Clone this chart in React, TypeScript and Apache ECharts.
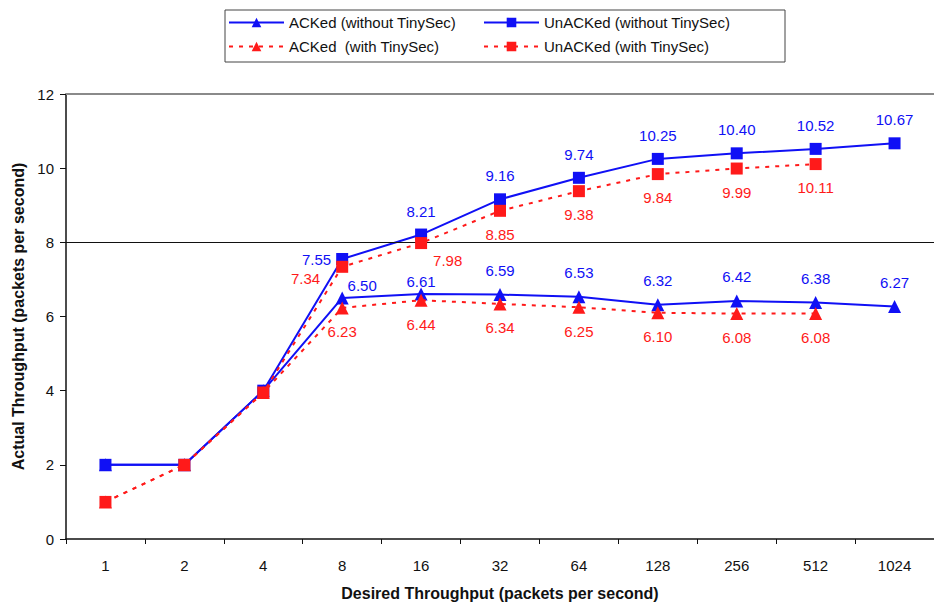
import React, { useEffect, useRef } from "react";
import * as echarts from "echarts";

const categories = ["1", "2", "4", "8", "16", "32", "64", "128", "256", "512", "1024"];
const ackedWithout = [2, 2, 4.0, 6.5, 6.61, 6.59, 6.53, 6.32, 6.42, 6.38, 6.27];
const unackedWithout = [2, 2, 4.0, 7.55, 8.21, 9.16, 9.74, 10.25, 10.4, 10.52, 10.67];
const ackedWith = [1, 2, 3.95, 6.23, 6.44, 6.34, 6.25, 6.1, 6.08, 6.08, null];
const unackedWith = [1, 2, 3.95, 7.34, 7.98, 8.85, 9.38, 9.84, 9.99, 10.11, null];
const yTicks = [0, 2, 4, 6, 8, 10, 12];

const seriesNames = [
  "ACKed (without TinySec)",
  "UnACKed (without TinySec)",
  "ACKed  (with TinySec)",
  "UnACKed (with TinySec)",
];

const BLUE = "#1010f5";
const RED = "#ff1a1a";
const FONT = "Liberation Sans, Arial, Helvetica, sans-serif";

// per-point label overrides: series index -> category index -> label props
const labelOverrides: Record<number, Record<number, any>> = {
  0: { 3: { position: "top", distance: 10, offset: [20, 12] }, 4: { position: "top", distance: 10, offset: [0, 12] } },
  1: { 3: { position: "left", distance: 5, offset: [0, 0] } },
  3: {
    3: { position: "left", distance: 16, offset: [0, 12] },
    4: { position: "right", distance: 6, offset: [0, 17] },
  },
};

function buildData(values: (number | null)[], si: number, above: boolean, color: string) {
  return values.map((v, i) => {
    if (v === null) return null;
    const show = i >= 3;
    const ov = (labelOverrides[si] && labelOverrides[si][i]) || {};
    return {
      value: v,
      label: {
        show,
        position: above ? "top" : "bottom",
        distance: 10,
        color,
        fontSize: 15,
        fontFamily: FONT,
        formatter: (p: any) => Number(p.value).toFixed(2),
        ...ov,
      },
    };
  });
}

export default function App() {
  const ref = useRef<HTMLDivElement>(null);
  useEffect(() => {
    document.body.style.margin = "0";
    if (!ref.current) return;
    const chart = echarts.init(ref.current, undefined, { renderer: "svg" });
    const mkSeries = (
      name: string,
      values: (number | null)[],
      si: number,
      color: string,
      symbol: string,
      symbolSize: number,
      dashed: boolean,
      above: boolean,
      extra: any = {}
    ) => ({
      name,
      type: "line",
      data: buildData(values, si, above, color),
      symbol,
      symbolSize,
      showSymbol: true,
      itemStyle: { color },
      lineStyle: { color, width: 2, type: dashed ? [4, 6] : "solid" },
      z: 2 + si,
      ...extra,
    });
    const legendBase = {
      itemWidth: 55,
      itemHeight: 12,
      itemGap: 0,
      textStyle: { fontSize: 15, fontFamily: FONT, color: "#111" },
      padding: 0,
    };
    chart.setOption({
      animation: false,
      backgroundColor: "#ffffff",
      textStyle: { fontFamily: FONT },
      grid: { left: 66, right: 0, top: 94, bottom: 63, containLabel: false },
      graphic: [
        {
          type: "rect",
          shape: { x: 225, y: 10, width: 560, height: 52 },
          style: { fill: "none", stroke: "#444", lineWidth: 1 },
        },
      ],
      legend: [
        { ...legendBase, data: [seriesNames[0]], left: 228, top: 15 },
        { ...legendBase, data: [seriesNames[1]], left: 483, top: 15 },
        { ...legendBase, data: [seriesNames[2]], left: 228, top: 39 },
        { ...legendBase, data: [seriesNames[3]], left: 483, top: 39 },
      ],
      xAxis: {
        type: "category",
        data: categories,
        boundaryGap: true,
        name: "Desired Throughput (packets per second)",
        nameLocation: "middle",
        nameGap: 46,
        nameTextStyle: { fontSize: 16, fontWeight: "bold", color: "#111", fontFamily: FONT },
        axisLine: { lineStyle: { color: "#111", width: 1.5 } },
        axisTick: { show: true, alignWithLabel: false, length: 5, lineStyle: { color: "#111" } },
        axisLabel: { fontSize: 15, color: "#111", margin: 19, fontFamily: FONT },
        splitLine: { show: false },
      },
      yAxis: {
        type: "value",
        min: yTicks[0],
        max: yTicks[yTicks.length - 1],
        interval: 2,
        name: "Actual Throughput (packets per second)",
        nameLocation: "middle",
        nameGap: 39,
        nameTextStyle: { fontSize: 16, fontWeight: "bold", color: "#111", fontFamily: FONT },
        axisLine: { show: true, lineStyle: { color: "#111", width: 1.5 } },
        axisTick: { show: true, length: 6, lineStyle: { color: "#111" } },
        axisLabel: { fontSize: 15, color: "#111", margin: 12, fontFamily: FONT },
        splitLine: { show: false },
      },
      series: [
        mkSeries(seriesNames[0], ackedWithout, 0, BLUE, "triangle", 13, false, true, {
          markLine: {
            silent: true,
            symbol: "none",
            label: { show: false },
            data: [
              { yAxis: 8, lineStyle: { color: "#111", width: 1, type: "solid" } },
              { yAxis: 12, lineStyle: { color: "#8a8a8a", width: 2, type: "solid" } },
            ],
          },
        }),
        mkSeries(seriesNames[1], unackedWithout, 1, BLUE, "rect", 12, false, true),
        mkSeries(seriesNames[2], ackedWith, 2, RED, "triangle", 13, true, false),
        mkSeries(seriesNames[3], unackedWith, 3, RED, "rect", 12, true, false),
      ],
    });
    return () => chart.dispose();
  }, []);
  return <div ref={ref} style={{ width: 934, height: 606 }} />;
}
